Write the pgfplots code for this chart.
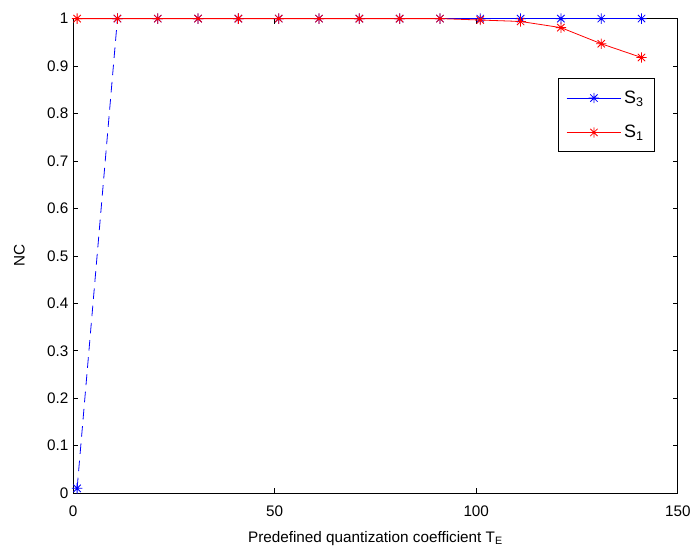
\documentclass[border=0pt]{standalone}
\usepackage{fontspec}
\setmainfont{Liberation Sans}
\usepackage{pgfplots}
\pgfplotsset{compat=1.18}
\pgfdeclareplotmark{mstar}{%
  \pgfpathmoveto{\pgfqpoint{-\pgfplotmarksize}{0pt}}\pgfpathlineto{\pgfqpoint{\pgfplotmarksize}{0pt}}%
  \pgfpathmoveto{\pgfqpoint{0pt}{-\pgfplotmarksize}}\pgfpathlineto{\pgfqpoint{0pt}{\pgfplotmarksize}}%
  \pgfpathmoveto{\pgfqpoint{-0.707\pgfplotmarksize}{-0.707\pgfplotmarksize}}\pgfpathlineto{\pgfqpoint{0.707\pgfplotmarksize}{0.707\pgfplotmarksize}}%
  \pgfpathmoveto{\pgfqpoint{-0.707\pgfplotmarksize}{0.707\pgfplotmarksize}}\pgfpathlineto{\pgfqpoint{0.707\pgfplotmarksize}{-0.707\pgfplotmarksize}}%
  \pgfusepathqstroke}
\pgfplotsset{
  legend image code/.code={%
    \draw[mark repeat=2,mark phase=2,#1] plot coordinates {(0cm,0cm) (0.72cm,0cm) (1.44cm,0cm)};}
}
\begin{document}
\begin{tikzpicture}
\begin{axis}[
  scale only axis,
  width=455pt, height=357pt,
  xmin=0, xmax=150, ymin=0, ymax=1,
  xtick={0,50,100,150},
  ytick={0,0.1,0.2,0.3,0.4,0.5,0.6,0.7,0.8,0.9,1},
  yticklabels={0,0.1,0.2,0.3,0.4,0.5,0.6,0.7,0.8,0.9,1},
  xticklabels={0,50,100,150},
  tick align=inside,
  major tick length=4pt,
  tick style={black, line width=0.5pt},
  axis line style={black, line width=0.6pt},
  ticklabel style={font=\fontsize{11.5}{13}\selectfont},
  label style={font=\fontsize{11.5}{13}\selectfont},
  xticklabel style={yshift=-6pt},
  xlabel={Predefined quantization coefficient T\textsubscript{E}},
  ylabel={NC},
  xlabel style={yshift=-4pt},
  ylabel style={yshift=10pt},
  /pgf/number format/assume math mode=true,
  legend style={at={(0.962,0.874)}, anchor=north east, draw=black, line width=0.6pt,
    font=\fontsize{13.5}{16}\selectfont, row sep=11pt, inner ysep=7pt, inner xsep=6pt},
  legend cell align=left,
  clip=false,
]
\addplot[blue, dash pattern=on 8pt off 5pt, line width=0.6pt, forget plot] coordinates {(1,0.01) (11,1)};
\addplot[blue, line width=0.6pt, mark=mstar, mark size=3.9pt, only marks, forget plot] coordinates {(1,0.01)};
\addplot[blue, line width=0.6pt, mark=mstar, mark size=3.9pt] coordinates {
(11,1) (21,1) (31,1) (41,1) (51,1) (61,1) (71,1) (81,1) (91,1) (101,1) (111,1) (121,1) (131,1) (141,1)};
\addlegendentry{S\textsubscript{3}}
\addplot[red, line width=0.6pt, mark=mstar, mark size=3.9pt] coordinates {
(1,1) (11,1) (21,1) (31,1) (41,1) (51,1) (61,1) (71,1) (81,1) (91,1) (101,0.997) (111,0.994) (121,0.981) (131,0.947) (141,0.918)};
\addlegendentry{S\textsubscript{1}}
\path (rel axis cs:0,0) ++(-55pt,-41pt) coordinate (bbsw);
\path (rel axis cs:1,1) ++(11pt,14pt) coordinate (bbne);
\end{axis}
\useasboundingbox (bbsw) rectangle (bbne);
\end{tikzpicture}
\end{document}
